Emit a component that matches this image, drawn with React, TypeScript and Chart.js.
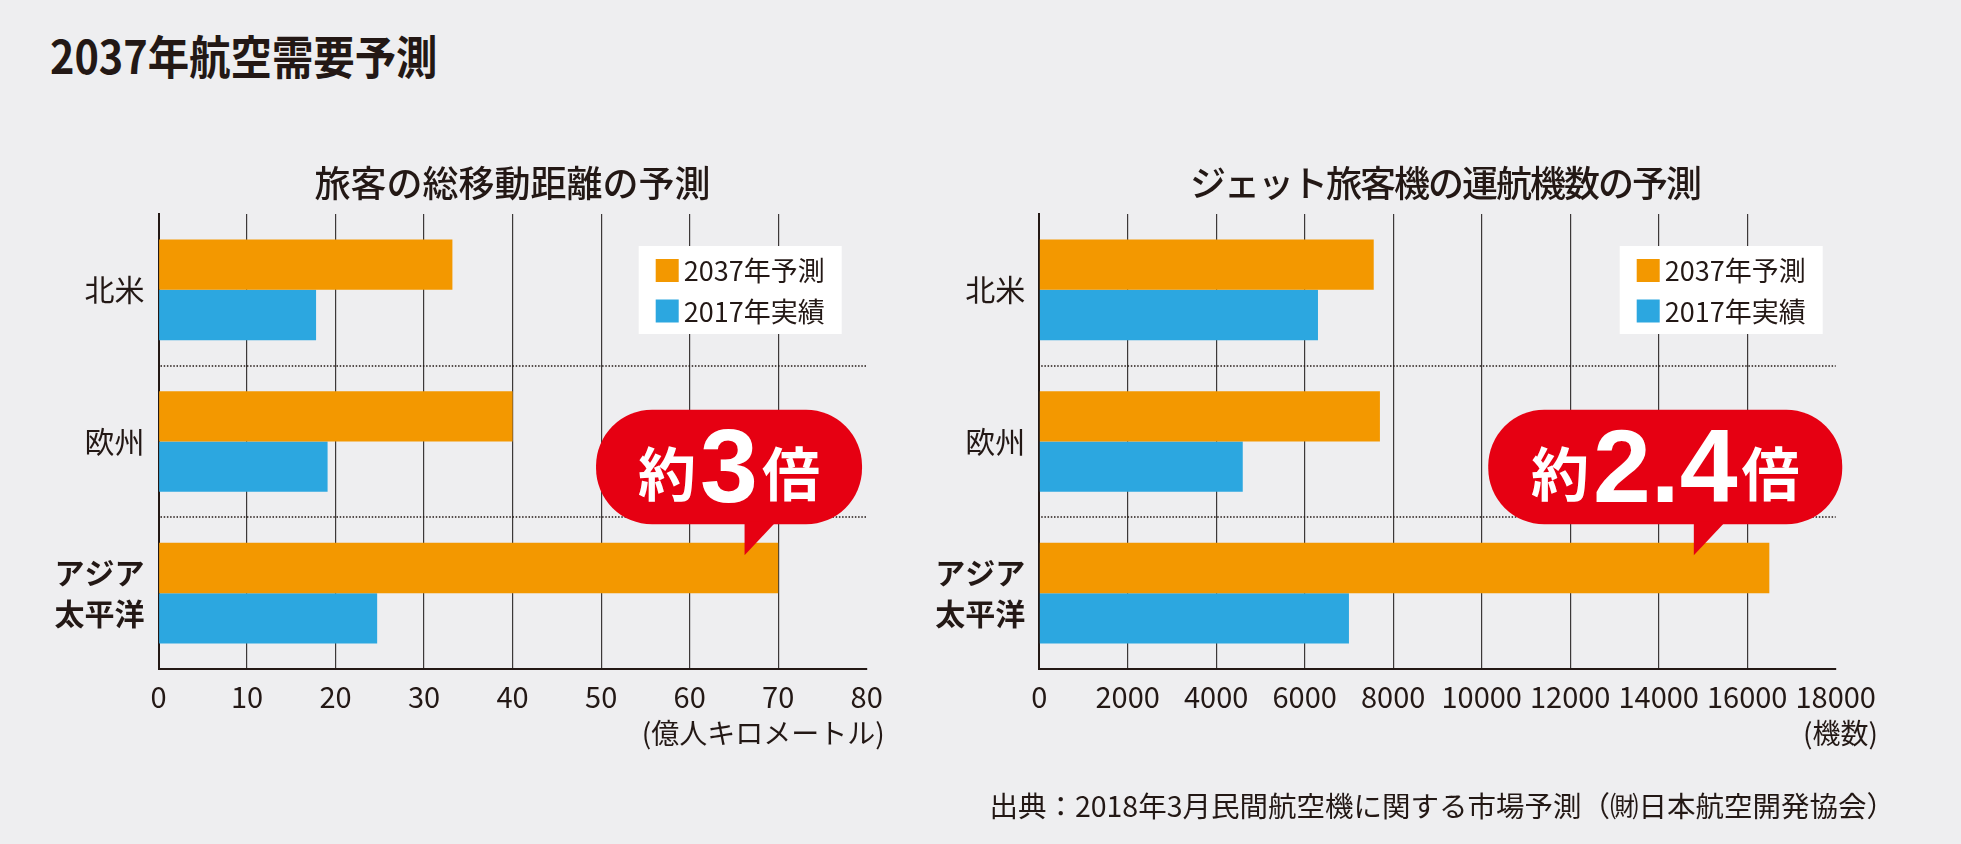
import React, { useEffect, useRef } from 'react';
import { Chart, registerables } from 'chart.js';

Chart.register(...registerables);

const FONT = "'Noto Sans CJK JP', 'Noto Sans', sans-serif";
const NUM_FONT = "'Liberation Sans', Arial, sans-serif";
const INK = '#231815';
const BG = '#eeeef0';
const ORANGE = '#f39800';
const BLUE = '#2ca7e0';
const RED = '#e60012';
const GRID = '#3c3838';

// ---------- data ----------
const pageTitle = '2037年航空需要予測';
const sourceNote = '出典：2018年3月民間航空機に関する市場予測（㈶日本航空開発協会）';
const regions: (string | string[])[] = ['北米', '欧州', ['アジア', '太平洋']];
const highlightIndex = 2;
const seriesNames = ['2037年予測', '2017年実績'];

const distanceTitle = '旅客の総移動距離の予測';
const distance2037 = [33.2, 40.0, 70.0];
const distance2017 = [17.8, 19.1, 24.7];
const distanceTicks = [0, 10, 20, 30, 40, 50, 60, 70, 80];
const distanceUnit = '(億人キロメートル)';
const distanceCallout = ['約', '3', '倍'];

const fleetTitle = 'ジェット旅客機の運航機数の予測';
const fleet2037 = [7560, 7700, 16500];
const fleet2017 = [6300, 4600, 7000];
const fleetTicks = [0, 2000, 4000, 6000, 8000, 10000, 12000, 14000, 16000, 18000];
const fleetUnit = '(機数)';
const fleetCallout = ['約', '2.4', '倍'];

// ---------- plugin ----------
const decorPlugin: any = {
  id: 'decor',
  beforeDatasetsDraw(chart: any) {
    const { ctx, chartArea: a, scales } = chart;
    const y = scales.y;
    const n = chart.data.labels.length;
    ctx.save();
    ctx.strokeStyle = INK;
    ctx.lineWidth = 1.5;
    ctx.setLineDash([1.5, 1.7]);
    for (let i = 1; i < n; i++) {
      const py = Math.round((y.getPixelForValue(i - 1) + y.getPixelForValue(i)) / 2);
      ctx.beginPath();
      ctx.moveTo(a.left + 2, py);
      ctx.lineTo(a.right, py);
      ctx.stroke();
    }
    ctx.restore();
  },
  afterDatasetsDraw(chart: any, _args: any, opts: any) {
    const c = opts.callout;
    if (!c) return;
    const { ctx, scales } = chart;
    const x = scales.x;
    const el = chart.getDatasetMeta(0).data[highlightIndex];
    const barTop = el.y - el.height / 2;
    const top = barTop - 133;
    const bottom = barTop - 18.5;
    const tipY = barTop + 12.5;
    const cx = x.getPixelForValue(c.center);
    const tipX = x.getPixelForValue(c.tip);
    ctx.save();
    ctx.fillStyle = RED;
    ctx.beginPath();
    ctx.roundRect(cx - c.halfWidth, top, c.halfWidth * 2, bottom - top, 56);
    ctx.fill();
    ctx.beginPath();
    ctx.moveTo(tipX, bottom - 3);
    ctx.lineTo(tipX, tipY);
    ctx.lineTo(tipX + 32, bottom - 3);
    ctx.closePath();
    ctx.fill();
    // text
    const cjkFont = `bold 58px ${FONT}`;
    const numFont = `bold 104px ${NUM_FONT}`;
    const gap = 4;
    const widths = c.parts.map((p: string, i: number) => {
      ctx.font = i === 1 ? numFont : cjkFont;
      return ctx.measureText(p).width;
    });
    const total = widths.reduce((s: number, w: number) => s + w, 0) + gap * (widths.length - 1);
    let px = cx - total / 2;
    ctx.fillStyle = '#ffffff';
    ctx.textAlign = 'left';
    c.parts.forEach((p: string, i: number) => {
      if (i === 1) {
        ctx.font = numFont;
        ctx.textBaseline = 'alphabetic';
        ctx.fillText(p, px, top + 92);
      } else {
        ctx.font = cjkFont;
        ctx.textBaseline = 'middle';
        ctx.fillText(p, px, top + 64.5);
      }
      px += widths[i] + gap;
    });
    ctx.restore();
  },
  afterDraw(chart: any, _args: any, opts: any) {
    const { ctx, chartArea: a, scales } = chart;
    ctx.save();
    // panel title, centred over the plot
    ctx.fillStyle = INK;
    ctx.font = `500 36px ${FONT}`;
    ctx.textAlign = 'center';
    ctx.textBaseline = 'middle';
    (ctx as any).letterSpacing = `${opts.titleSpacing}px`;
    ctx.fillText(opts.title, (a.left + a.right) / 2 + opts.titleShift, a.top - 31);
    (ctx as any).letterSpacing = '0px';
    // legend box
    const w = 203;
    const h = 88;
    const bx = a.right - opts.legendInset - w;
    const by = a.top + 32;
    ctx.fillStyle = '#ffffff';
    ctx.fillRect(bx, by, w, h);
    chart.data.datasets.forEach((ds: any, i: number) => {
      const sy = by + 13 + i * 40.5;
      ctx.fillStyle = ds.backgroundColor;
      ctx.fillRect(bx + 17, sy, 23, 23);
      ctx.fillStyle = INK;
      ctx.font = `27px ${FONT}`;
      ctx.textAlign = 'left';
      ctx.textBaseline = 'middle';
      ctx.fillText(ds.label, bx + 45, sy + 12);
    });
    // unit label, right-aligned to last tick label
    const x = scales.x;
    const last = x.ticks[x.ticks.length - 1];
    ctx.font = `29px ${FONT}`;
    const right = x.getPixelForValue(last.value) + ctx.measureText(String(last.label)).width / 2 + 2;
    ctx.font = `28px ${FONT}`;
    ctx.fillStyle = INK;
    ctx.textAlign = 'right';
    ctx.textBaseline = 'middle';
    ctx.fillText(opts.unit, right, a.bottom + 64);
    ctx.restore();
  },
};

// ---------- panel ----------
type PanelProps = {
  left: number;
  width: number;
  yAxisWidth: number;
  rightPad: number;
  title: string;
  titleShift: number;
  titleSpacing: number;
  values2037: number[];
  values2017: number[];
  ticks: number[];
  unit: string;
  legendInset: number;
  callout: { parts: string[]; center: number; tip: number; halfWidth: number };
};

const PANEL_TOP = 140;
const PANEL_H = 680;

function Panel(props: PanelProps) {
  const ref = useRef<HTMLCanvasElement>(null);
  useEffect(() => {
    const canvas = ref.current;
    if (!canvas) return;
    const tickVals = props.ticks;
    const chart = new Chart(canvas, {
      type: 'bar',
      data: {
        labels: regions as any,
        datasets: [
          { label: seriesNames[0], data: props.values2037, backgroundColor: ORANGE, borderWidth: 0 },
          { label: seriesNames[1], data: props.values2017, backgroundColor: BLUE, borderWidth: 0 },
        ],
      },
      options: {
        indexAxis: 'y',
        animation: false,
        responsive: true,
        maintainAspectRatio: false,
        datasets: { bar: { barPercentage: 1, categoryPercentage: 0.664 } },
        layout: {
          padding: { left: 0, right: props.rightPad, top: 214 - PANEL_TOP, bottom: PANEL_H - (669 - PANEL_TOP) - 100 },
        },
        scales: {
          x: {
            type: 'linear',
            min: tickVals[0],
            max: tickVals[tickVals.length - 1],
            afterBuildTicks: (s: any) => {
              s.ticks = tickVals.map((v) => ({ value: v }));
            },
            afterFit: (s: any) => {
              s.height = 100;
            },
            grid: {
              drawTicks: false,
              lineWidth: 1.2,
              color: (c: any) =>
                c.tick && (c.tick.value === tickVals[0] || c.tick.value === tickVals[tickVals.length - 1])
                  ? 'rgba(0,0,0,0)'
                  : GRID,
            },
            border: { display: true, color: INK, width: 2 },
            ticks: {
              autoSkip: false,
              maxRotation: 0,
              minRotation: 0,
              padding: 10.6,
              color: INK,
              font: { family: FONT, size: 29, lineHeight: 1.2 },
              callback: (v: any) => String(v),
            },
          },
          y: {
            type: 'category',
            afterFit: (s: any) => {
              s.width = props.yAxisWidth;
            },
            grid: { display: false, drawTicks: false },
            border: { display: true, color: INK, width: 2 },
            ticks: {
              padding: 14,
              color: INK,
              font: (c: any) => ({
                family: FONT,
                size: 30,
                lineHeight: 1.37,
                weight: c.index === highlightIndex ? 'bold' : 'normal',
              }),
            },
          },
        },
        plugins: {
          legend: { display: false },
          tooltip: { enabled: false },
          title: { display: false },
          decor: {
            title: props.title,
            titleShift: props.titleShift,
            titleSpacing: props.titleSpacing,
            legendInset: props.legendInset,
            unit: props.unit,
            callout: props.callout,
          },
        } as any,
      },
      plugins: [decorPlugin],
    } as any);
    return () => chart.destroy();
  }, []);
  return (
    <div style={{ position: 'absolute', left: props.left, top: PANEL_TOP, width: props.width, height: PANEL_H }}>
      <canvas ref={ref} />
    </div>
  );
}

export default function App() {
  Chart.defaults.font.family = FONT;
  return (
    <div
      style={{
        position: 'fixed',
        left: 0,
        top: 0,
        width: 1961,
        height: 844,
        overflow: 'hidden',
        background: BG,
        fontFamily: FONT,
        color: INK,
      }}
    >
      <div
        style={{
          position: 'absolute',
          left: 50,
          top: 31,
          fontSize: 46,
          lineHeight: '46px',
          fontWeight: 'bold',
          whiteSpace: 'nowrap',
          transform: 'scaleX(0.9)',
          transformOrigin: 'left center',
        }}
      >
        {pageTitle}
      </div>
      <Panel
        left={0}
        width={1025}
        yAxisWidth={158.5}
        rightPad={1025 - 866.7}
        title={distanceTitle}
        titleShift={0}
        titleSpacing={0}
        values2037={distance2037}
        values2017={distance2017}
        ticks={distanceTicks}
        unit={distanceUnit}
        legendInset={25}
        callout={{ parts: distanceCallout, center: 64.45, tip: 66.2, halfWidth: 133 }}
      />
      <Panel
        left={920}
        width={1041}
        yAxisWidth={1039.2 - 920}
        rightPad={1961 - 1835.7}
        title={fleetTitle}
        titleShift={7.5}
        titleSpacing={-2}
        values2037={fleet2037}
        values2017={fleet2017}
        ticks={fleetTicks}
        unit={fleetUnit}
        legendInset={13}
        callout={{ parts: fleetCallout, center: 14148, tip: 14794, halfWidth: 177 }}
      />
      <div
        style={{
          position: 'absolute',
          right: 66,
          top: 791,
          fontSize: 28.5,
          lineHeight: '28px',
          whiteSpace: 'nowrap',
        }}
      >
        {sourceNote}
      </div>
    </div>
  );
}
